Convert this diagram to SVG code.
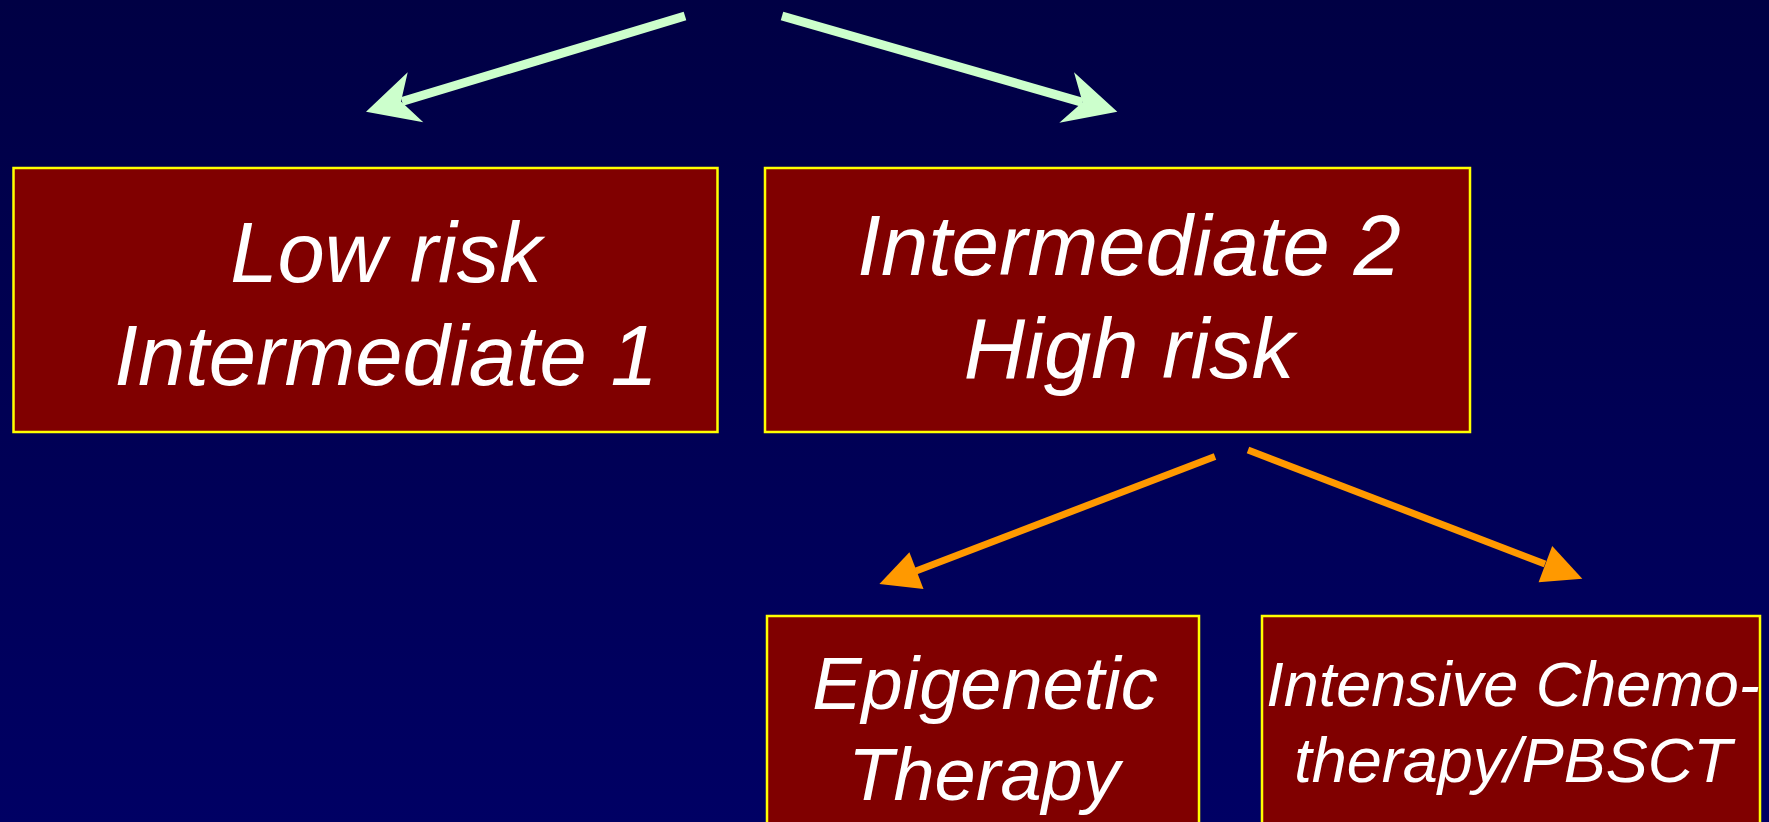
<svg xmlns="http://www.w3.org/2000/svg" width="1769" height="822" viewBox="0 0 1769 822">
<defs>
<linearGradient id="bg" x1="0" y1="0" x2="0" y2="1">
<stop offset="0" stop-color="#000044"/>
<stop offset="1" stop-color="#000064"/>
</linearGradient>
<style>
.box{fill:#800000;stroke:#ffff00;stroke-width:2.5}
.t{font-family:"Liberation Sans",Arial,sans-serif;font-style:italic;fill:#ffffff;text-anchor:middle}
.g{stroke:#ccffcc;stroke-width:9;fill:none}
.gh{fill:#ccffcc}
.o{stroke:#ff9900;stroke-width:7;fill:none}
.oh{fill:#ff9900}
</style>
</defs>
<rect width="1769" height="822" fill="url(#bg)"/>
<g id="connectors">
<line class="g" x1="685" y1="16" x2="402" y2="101.5"/>
<polygon class="gh" points="366,111.7 407.7,72.3 401,101.5 423.3,122.3"/>
<line class="g" x1="782" y1="16" x2="1082.5" y2="102.3"/>
<polygon class="gh" points="1117.3,111.7 1074,72.3 1082.5,102.3 1059.3,122.7"/>
<line class="o" x1="1215" y1="456.5" x2="916" y2="571"/>
<polygon class="oh" points="879.4,584 909.4,552.3 923.5,589"/>
<line class="o" x1="1248" y1="450" x2="1545" y2="564"/>
<polygon class="oh" points="1582.3,578.7 1552.2,546 1538.6,582.3"/>
</g>
<g id="low-risk">
<rect class="box" x="13.5" y="168" width="704" height="264"/>
<text class="t" font-size="85" x="386" y="282">Low risk</text>
<text class="t" font-size="85" x="386" y="385">Intermediate 1</text>
</g>
<g id="high-risk">
<rect class="box" x="765" y="168" width="705" height="264"/>
<text class="t" font-size="85" x="1129" y="275">Intermediate 2</text>
<text class="t" font-size="85" x="1129" y="378">High risk</text>
</g>
<g id="epigenetic">
<rect class="box" x="767" y="616" width="432" height="240"/>
<text class="t" font-size="74" x="985" y="709">Epigenetic</text>
<text class="t" font-size="74" x="984" y="800">Therapy</text>
</g>
<g id="chemo">
<rect class="box" x="1262" y="616" width="498" height="240"/>
<text class="t" font-size="63" x="1513" y="706">Intensive Chemo-</text>
<text class="t" font-size="63" x="1513" y="782">therapy/PBSCT</text>
</g>
</svg>
